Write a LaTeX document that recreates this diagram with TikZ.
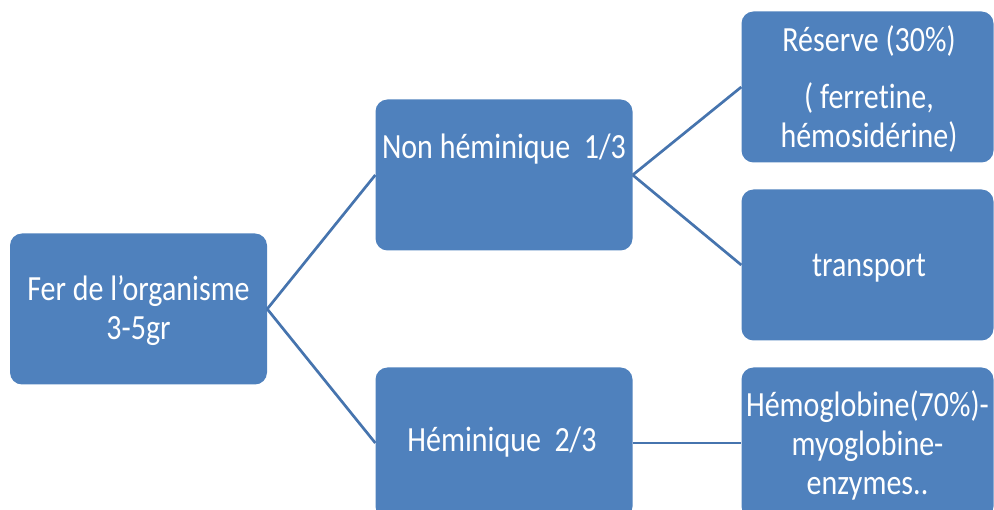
\documentclass[tikz,border=0pt]{standalone}
\usepackage{fontspec}
\setmainfont{Carlito}[Ligatures=NoCommon]
\definecolor{boxblue}{HTML}{4F81BD}
\definecolor{linkblue}{HTML}{4674AE}
\tikzset{
  box/.style={fill=boxblue, rounded corners=12pt, inner sep=0pt,
              minimum width=257pt, minimum height=151pt},
  leafbox/.style={box, minimum width=252pt},
  lbl/.style={text=white, font=\fontsize{30}{33}\selectfont, yscale=1.18,
              align=center, inner sep=0pt},
  link/.style={draw=linkblue, line width=2.7pt}
}
\begin{document}
\begin{tikzpicture}[x=1pt,y=-1pt]
  \useasboundingbox (0,0) rectangle (994,510);
  \clip (0,0) rectangle (994,510);

  % boxes
  \node[box]     (root)  at (138.5,309) {};
  \node[box]     (non)   at (504,175)   {};
  \node[box]     (hem)   at (504,443)   {};
  \node[leafbox] (res)   at (867.5,87)  {};
  \node[leafbox] (trans) at (867.5,265) {};
  \node[leafbox] (hglob) at (867.5,443) {};

  % connectors
  \draw[link] (root.east) -- (non.west);
  \draw[link] (root.east) -- (hem.west);
  \draw[link] (non.east) -- (res.west);
  \draw[link] (non.east) -- (trans.west);
  \draw[link] (hem.east) -- (hglob.west);

  % labels
  \node[lbl] (rootTxt) at (138.5,311) {Fer de l’organisme\\3-5gr};
  \node[lbl, anchor=base] (nonTxt) at (504,159) {Non héminique~~1/3};
  \node[lbl, anchor=base] (hemTxt) at (502,452) {Héminique~~2/3};
  \node[lbl] (resTxt) at (869,89) {Réserve (30\%)\\[16pt]( ferretine,\\hémosidérine)};
  \node[lbl, anchor=base] (transTxt) at (869,277) {transport};
  \node[lbl] (hglobTxt) at (867.5,445) {Hémoglobine(70\%)-\\myoglobine-\\enzymes..};
\end{tikzpicture}
\end{document}
